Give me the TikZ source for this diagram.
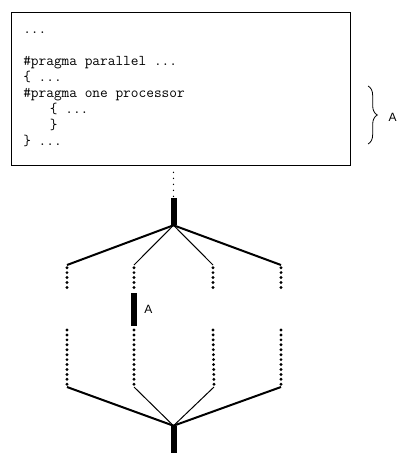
\documentclass[tikz,border=0pt]{standalone}
\usepackage{fontspec}
\setmainfont{Liberation Sans}
\usetikzlibrary{decorations.pathreplacing}

\tikzset{
	bar/.style={fill=black, inner sep=0pt, minimum width=4.5pt},
	dots/.style={line width=2.4pt, line cap=round, dash pattern=on 0pt off 3.7pt},
	outer edge/.style={line width=1.5pt},
	inner edge/.style={line width=0.75pt},
	label/.style={font=\fontsize{9}{10}\selectfont, inner sep=0pt}
}

\begin{document}
\begin{tikzpicture}[x=0.75pt, y=-0.75pt]
	\useasboundingbox (0,0) rectangle (410,464);

	\node[draw, line width=0.8pt, anchor=north west, inner sep=0pt,
		minimum width=254pt, minimum height=114.5pt] (code) at (11,12) {};
	\node[anchor=north west, inner sep=0pt, align=left,
		font=\ttfamily\fontsize{11.2}{11.9}\selectfont] (prog) at (23,32) {%
		...\\[11.9pt]
		\#pragma parallel ...\\
		\{ ...\\
		\#pragma one processor\\
		\hspace*{20pt}\{ ...\\
		\hspace*{20pt}\}\\
		\} ...};

	\coordinate (braceTop) at (368,86);
	\coordinate (braceBot) at (368,144);
	\draw[decorate, decoration={brace, amplitude=7pt}, line width=0.6pt] (braceTop) -- (braceBot);
	\node[label] (bracelabel) at (392.5,117) {A};

	\node[bar, minimum height=20.25pt] (fork) at (173.5,211.5) {};
	\node[bar, minimum height=20.25pt] (join) at (173.5,439.5) {};
	\draw[line width=1pt, line cap=round, dash pattern=on 0pt off 4.5pt, shorten <=5pt]
		(code.south -| fork.north) -- (fork.north);

	\coordinate (c1a) at (67,265);
	\coordinate (c2a) at (134,265);
	\coordinate (c3a) at (213,265);
	\coordinate (c4a) at (281,265);
	\coordinate (c1b) at (67,289);
	\coordinate (c2b) at (134,289);
	\coordinate (c3b) at (213,289);
	\coordinate (c4b) at (281,289);
	\coordinate (c1c) at (67,330);
	\coordinate (c2c) at (134,330);
	\coordinate (c3c) at (213,330);
	\coordinate (c4c) at (281,330);
	\coordinate (c1d) at (67,387);
	\coordinate (c2d) at (134,387);
	\coordinate (c3d) at (214,387);
	\coordinate (c4d) at (281,387);

	\node[bar, minimum height=24.75pt] (single) at (134,309.5) {};
	\node[label] (singlelabel) at (148.5,309) {A};

	\draw[outer edge] (c1a) -- (fork.south) -- (c4a);
	\draw[inner edge] (c2a) -- (fork.south) -- (c3a);
	\draw[outer edge] (c1d) -- (join.north) -- (c4d);
	\draw[inner edge] (c2d) -- (join.north) -- (c3d);

	\foreach \c in {1,...,4} {
		\draw[dots, shorten <=2pt] (c\c a) -- (c\c b);
		\draw[dots, shorten >=2pt] (c\c c) -- (c\c d);
	}
\end{tikzpicture}
\end{document}
